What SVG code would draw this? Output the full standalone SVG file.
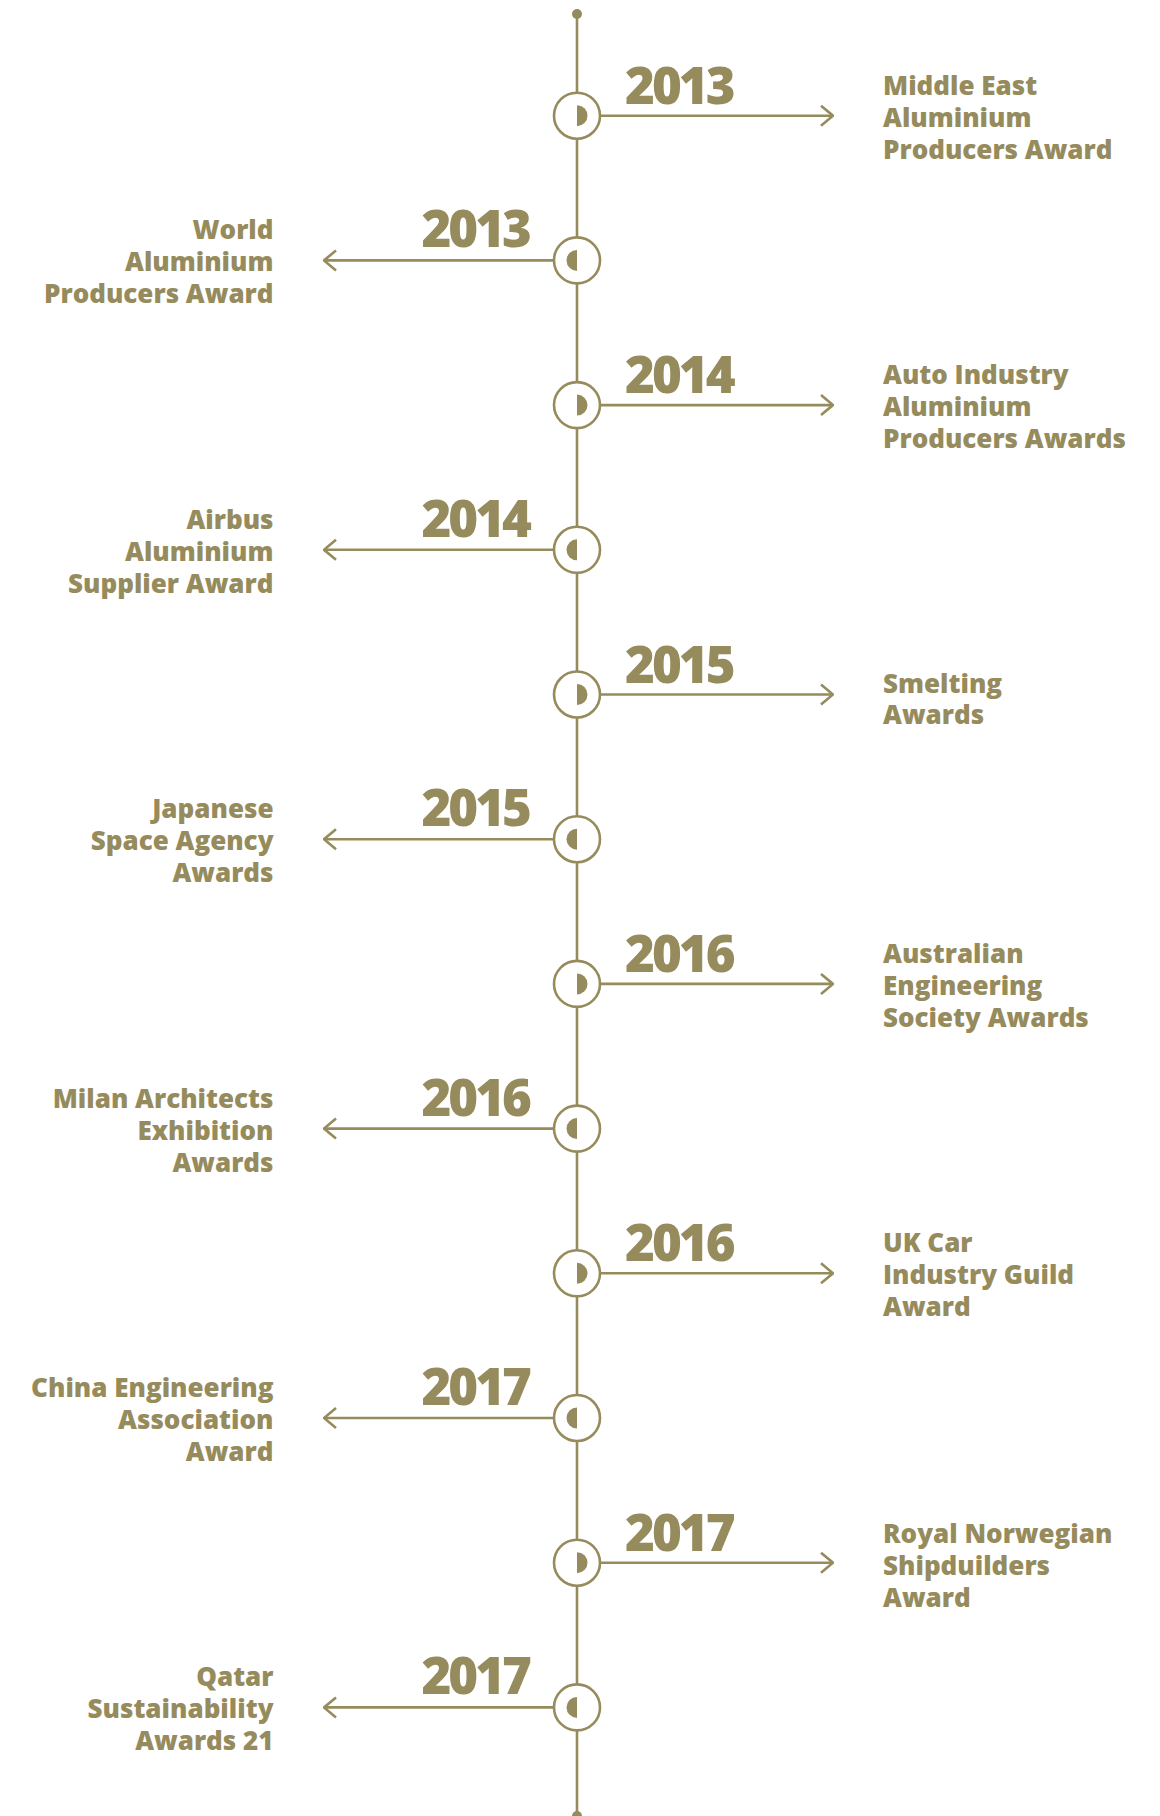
<svg xmlns="http://www.w3.org/2000/svg" width="1160" height="1816" viewBox="0 0 1160 1816">
<style>
.ln{stroke:#968b5c;stroke-width:2.6;fill:none}
.nd{stroke:#968b5c;stroke-width:2.6;fill:#fff}
.hd{fill:#968b5c}
.yr{font-family:"Open Sans",sans-serif;font-weight:800;font-size:51px;fill:#968b5c;letter-spacing:-3px}
.lb{font-family:"Open Sans",sans-serif;font-weight:800;font-size:26px;fill:#968b5c;transform:translate(0,1.5px)}
.r{text-anchor:end;transform:translate(0,2px)}
.yr.r{transform:none}
</style>
<defs>
<marker id="ah" viewBox="0 0 14 24" refX="13" refY="12" markerWidth="14" markerHeight="24" markerUnits="userSpaceOnUse" orient="auto">
<path d="M1,2 L13,12 L1,22" fill="none" stroke="#968b5c" stroke-width="2.6"/>
</marker>
</defs>
<rect width="1160" height="1816" fill="#fff"/>
<g id="connectors">
<line class="ln" x1="577" y1="14" x2="577" y2="1816"/>
<circle cx="577" cy="14" r="5" class="hd"/>
<circle cx="577" cy="1816" r="5" class="hd"/>
<line class="ln" x1="600" y1="115.7" x2="833" y2="115.7" marker-end="url(#ah)"/>
<line class="ln" x1="554" y1="260.4" x2="324" y2="260.4" marker-end="url(#ah)"/>
<line class="ln" x1="600" y1="405.1" x2="833" y2="405.1" marker-end="url(#ah)"/>
<line class="ln" x1="554" y1="549.8" x2="324" y2="549.8" marker-end="url(#ah)"/>
<line class="ln" x1="600" y1="694.5" x2="833" y2="694.5" marker-end="url(#ah)"/>
<line class="ln" x1="554" y1="839.2" x2="324" y2="839.2" marker-end="url(#ah)"/>
<line class="ln" x1="600" y1="983.9" x2="833" y2="983.9" marker-end="url(#ah)"/>
<line class="ln" x1="554" y1="1128.6" x2="324" y2="1128.6" marker-end="url(#ah)"/>
<line class="ln" x1="600" y1="1273.3" x2="833" y2="1273.3" marker-end="url(#ah)"/>
<line class="ln" x1="554" y1="1418" x2="324" y2="1418" marker-end="url(#ah)"/>
<line class="ln" x1="600" y1="1562.7" x2="833" y2="1562.7" marker-end="url(#ah)"/>
<line class="ln" x1="554" y1="1707.4" x2="324" y2="1707.4" marker-end="url(#ah)"/>
</g>
<g id="n1"><circle class="nd" cx="577" cy="115.7" r="23"/><path class="hd" d="M577,105.2 A10.5,10.5 0 0 1 577,126.2 Z"/>
<text class="yr" x="625" y="103.5">2013</text>
<text class="lb" x="883"><tspan x="883" y="93">Middle East</tspan><tspan x="883" y="125">Aluminium</tspan><tspan x="883" y="157">Producers Award</tspan></text></g>
<g id="n2"><circle class="nd" cx="577" cy="260.4" r="23"/><path class="hd" d="M577,249.9 A10.5,10.5 0 0 0 577,270.9 Z"/>
<text class="yr r" x="529" y="247">2013</text>
<text class="lb r"><tspan x="273.5" y="237">World</tspan><tspan x="273.5" y="269">Aluminium</tspan><tspan x="273.5" y="301">Producers Award</tspan></text></g>
<g id="n3"><circle class="nd" cx="577" cy="405.1" r="23"/><path class="hd" d="M577,394.6 A10.5,10.5 0 0 1 577,415.6 Z"/>
<text class="yr" x="625" y="393">2014</text>
<text class="lb"><tspan x="883" y="382.5">Auto Industry</tspan><tspan x="883" y="414.5">Aluminium</tspan><tspan x="883" y="446.5">Producers Awards</tspan></text></g>
<g id="n4"><circle class="nd" cx="577" cy="549.8" r="23"/><path class="hd" d="M577,539.3 A10.5,10.5 0 0 0 577,560.3 Z"/>
<text class="yr r" x="529" y="537">2014</text>
<text class="lb r"><tspan x="273.5" y="527">Airbus</tspan><tspan x="273.5" y="559">Aluminium</tspan><tspan x="273.5" y="591">Supplier Award</tspan></text></g>
<g id="n5"><circle class="nd" cx="577" cy="694.5" r="23"/><path class="hd" d="M577,684 A10.5,10.5 0 0 1 577,705 Z"/>
<text class="yr" x="625" y="683">2015</text>
<text class="lb"><tspan x="883" y="691">Smelting</tspan><tspan x="883" y="722">Awards</tspan></text></g>
<g id="n6"><circle class="nd" cx="577" cy="839.2" r="23"/><path class="hd" d="M577,828.7 A10.5,10.5 0 0 0 577,849.7 Z"/>
<text class="yr r" x="529" y="826">2015</text>
<text class="lb r"><tspan x="273.5" y="816">Japanese</tspan><tspan x="273.5" y="848">Space Agency</tspan><tspan x="273.5" y="880">Awards</tspan></text></g>
<g id="n7"><circle class="nd" cx="577" cy="983.9" r="23"/><path class="hd" d="M577,973.4 A10.5,10.5 0 0 1 577,994.4 Z"/>
<text class="yr" x="625" y="972">2016</text>
<text class="lb"><tspan x="883" y="961.5">Australian</tspan><tspan x="883" y="993.5">Engineering</tspan><tspan x="883" y="1025.5">Society Awards</tspan></text></g>
<g id="n8"><circle class="nd" cx="577" cy="1128.6" r="23"/><path class="hd" d="M577,1118.1 A10.5,10.5 0 0 0 577,1139.1 Z"/>
<text class="yr r" x="529" y="1116">2016</text>
<text class="lb r"><tspan x="273.5" y="1106">Milan Architects</tspan><tspan x="273.5" y="1138">Exhibition</tspan><tspan x="273.5" y="1170">Awards</tspan></text></g>
<g id="n9"><circle class="nd" cx="577" cy="1273.3" r="23"/><path class="hd" d="M577,1262.8 A10.5,10.5 0 0 1 577,1283.8 Z"/>
<text class="yr" x="625" y="1261">2016</text>
<text class="lb"><tspan x="883" y="1250.5">UK Car</tspan><tspan x="883" y="1282.5">Industry Guild</tspan><tspan x="883" y="1314.5">Award</tspan></text></g>
<g id="n10"><circle class="nd" cx="577" cy="1418" r="23"/><path class="hd" d="M577,1407.5 A10.5,10.5 0 0 0 577,1428.5 Z"/>
<text class="yr r" x="529" y="1405">2017</text>
<text class="lb r"><tspan x="273.5" y="1395">China Engineering</tspan><tspan x="273.5" y="1427">Association</tspan><tspan x="273.5" y="1459">Award</tspan></text></g>
<g id="n11"><circle class="nd" cx="577" cy="1562.7" r="23"/><path class="hd" d="M577,1552.2 A10.5,10.5 0 0 1 577,1573.2 Z"/>
<text class="yr" x="625" y="1551">2017</text>
<text class="lb"><tspan x="883" y="1541">Royal Norwegian</tspan><tspan x="883" y="1573">Shipduilders</tspan><tspan x="883" y="1605">Award</tspan></text></g>
<g id="n12"><circle class="nd" cx="577" cy="1707.4" r="23"/><path class="hd" d="M577,1696.9 A10.5,10.5 0 0 0 577,1717.9 Z"/>
<text class="yr r" x="529" y="1694">2017</text>
<text class="lb r"><tspan x="273.5" y="1684">Qatar</tspan><tspan x="273.5" y="1716">Sustainability</tspan><tspan x="273.5" y="1748">Awards 21</tspan></text></g>
</svg>
